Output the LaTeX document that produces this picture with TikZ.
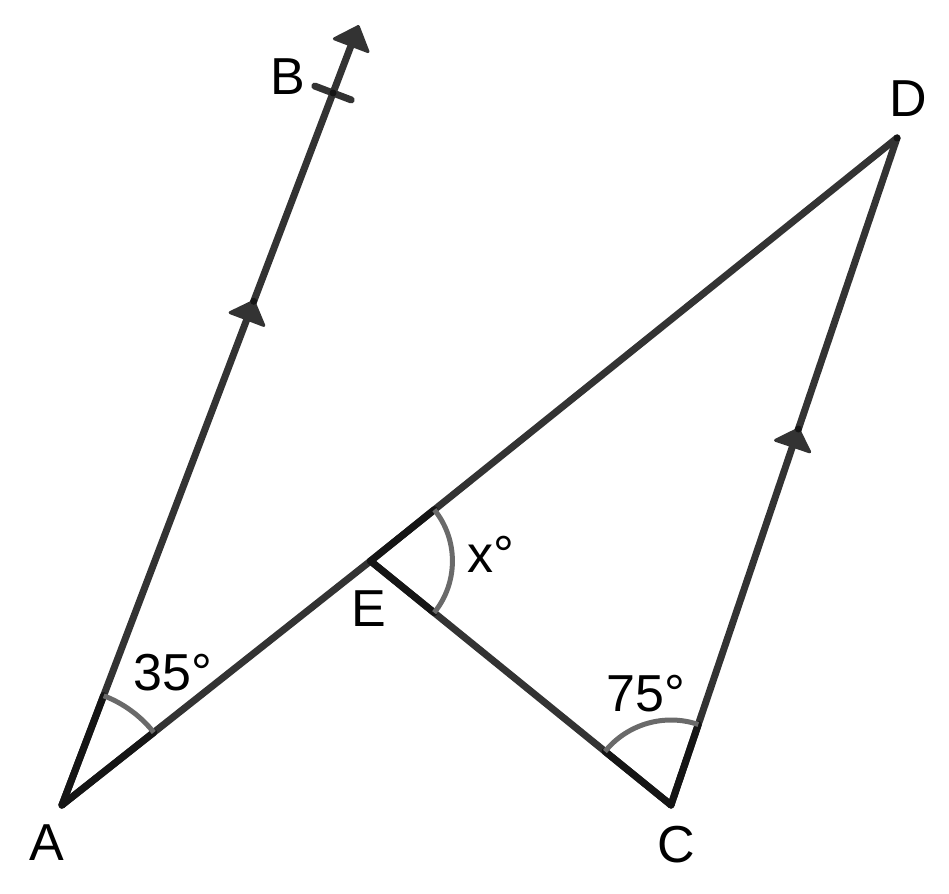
\documentclass[tikz,border=0pt]{standalone}
\usepackage{fontspec}
\setmainfont{Liberation Sans}
\usetikzlibrary{calc}
\definecolor{segc}{HTML}{333333}
\definecolor{segdark}{HTML}{151515}
\definecolor{arcc}{HTML}{6A6A6A}
\newcommand\arrowhd[5]{% from, toward, apex dist, base dist, name
  \coordinate (#5t) at ($(#1)!#3!(#2)$);
  \coordinate (#5b) at ($(#1)!#4!(#2)$);
  \fill[segc, draw=segc, line width=3pt, line join=round]
    (#5t) -- ($(#5b)!18pt!90:(#5t)$) -- ($(#5b)!18pt!-90:(#5t)$) -- cycle;
}
\begin{document}
\begin{tikzpicture}[x=1pt,y=-1pt,
  seg/.style={draw=segc,line width=7pt,line cap=round,line join=round},
  raydark/.style={draw=segdark,line width=7pt,line cap=round},
  anglearc/.style={draw=arcc,line width=5pt},
  lbl/.style={font=\fontsize{52}{60}\selectfont, inner sep=0pt, text=black},
  pt/.style={fill=segdark}]
\useasboundingbox (0,0) rectangle (949,893);
\coordinate (A) at (62,805);
\coordinate (B) at (333,93);
\coordinate (C) at (671,805);
\coordinate (D) at (897,138);
\coordinate (E) at (370.5,561);
\coordinate (Bend) at ($(A)!815pt!(B)$);
% segments
\draw[seg] (A) -- (Bend);
\draw[seg] (A) -- (E) -- (D);
\draw[seg] (E) -- (C) -- (D);
% tick at B
\draw[seg] ($(B)!19.5pt!90:(A)$) -- ($(B)!19.5pt!-90:(A)$);
% arrowheads
\arrowhd{A}{B}{833pt}{813pt}{tipAB}
\arrowhd{A}{B}{539pt}{520pt}{midAB}
\arrowhd{C}{D}{397pt}{379pt}{midCD}
% darker rays inside angles
\draw[raydark] (A) -- ($(A)!117pt!(B)$);
\draw[raydark] (A) -- ($(A)!117pt!(E)$);
\draw[raydark] (E) -- ($(E)!82pt!(D)$);
\draw[raydark] (E) -- ($(E)!82pt!(C)$);
\draw[raydark] (C) -- ($(C)!85pt!(E)$);
\draw[raydark] (C) -- ($(C)!85pt!(D)$);
% angle arcs
\draw[anglearc] ($(A)!117pt!(E)$) arc[start angle=38.4, end angle=69.16, radius=117pt];
\draw[anglearc] ($(E)!82pt!(C)$) arc[start angle=-39.0, end angle=38.75, radius=82pt];
\draw[anglearc] ($(C)!85pt!(D)$) arc[start angle=71.29, end angle=140.97, radius=85pt];
% points
\foreach \p in {A,B,C,D,E,midABt,midCDt} \fill[pt] (\p) circle (3.5pt);
% labels
\node[lbl, anchor=base] (lA) at (47,860) {A};
\node[lbl, anchor=base] (lB) at (288,95) {B};
\node[lbl, anchor=base] (lC) at (676,862) {C};
\node[lbl, anchor=base] (lD) at (908,117) {D};
\node[lbl, anchor=base] (lE) at (369,626) {E};
\node[lbl, anchor=base west] (l35) at (133,690) {35°};
\node[lbl, anchor=base west] (l75) at (606,711) {75°};
\node[lbl, anchor=base west] (lx) at (467,572) {x°};
\end{tikzpicture}
\end{document}
